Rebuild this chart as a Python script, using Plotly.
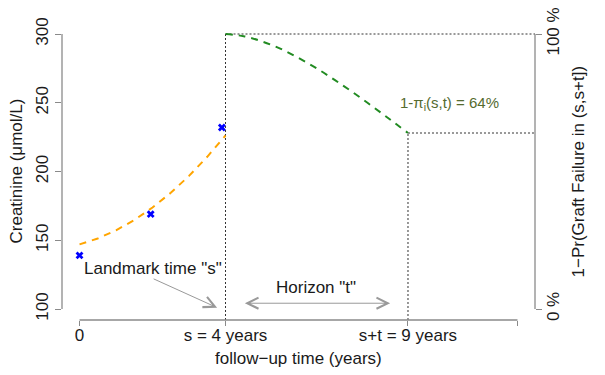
import plotly.graph_objects as go

# ---- data ----
obs_time = [0, 1.95, 3.9]
obs_creat = [139, 169, 232]

traj_time = [0, 0.5, 1, 1.5, 2, 2.5, 3, 3.5, 4]
traj_creat = [147, 151.3, 157.2, 164.7, 173.8, 184.5, 196.8, 210.7, 226.2]

surv_time = [4, 4.5, 5, 5.5, 6, 6.5, 7, 7.5, 8, 8.5, 9]
surv_pct = [100, 99.2, 97.3, 94.7, 91.3, 87.5, 83.2, 78.7, 73.9, 69.0, 64]

landmark_s = 4
horizon_end = 9
x_ticks = [0, 4, 9, 12]
x_ticktext = ["0", "s = 4 years", "s+t = 9 years", ""]
y_ticks = [100, 150, 200, 250, 300]
y2_ticks = [0, 100]
y2_ticktext = ["0 %", "100 %"]

X_RANGE = [-0.48, 12.48]
Y_RANGE = [92, 308]
Y2_RANGE = [-4, 104]

FONT = "Arial, 'Liberation Sans', sans-serif"
AXIS_COL = "#8a8a8a"
TXT = "#1a1a1a"
DOT = "#333333"

PW, PH = 473, 297  # plot area size in px

fig = go.Figure()

# dotted guide lines
fig.add_trace(go.Scatter(x=[landmark_s, landmark_s], y=[Y_RANGE[0], 300], mode="lines",
                         line=dict(color=DOT, width=1, dash="2px,2px"), showlegend=False, hoverinfo="skip"))
fig.add_trace(go.Scatter(x=[landmark_s, X_RANGE[1]], y=[surv_pct[0], surv_pct[0]], yaxis="y2", mode="lines",
                         line=dict(color=DOT, width=1, dash="2px,2px"), showlegend=False, hoverinfo="skip"))
fig.add_trace(go.Scatter(x=[horizon_end, horizon_end], y=[Y2_RANGE[0], surv_pct[-1]], yaxis="y2", mode="lines",
                         line=dict(color=DOT, width=1, dash="2px,2px"), showlegend=False, hoverinfo="skip"))
fig.add_trace(go.Scatter(x=[horizon_end, X_RANGE[1]], y=[surv_pct[-1], surv_pct[-1]], yaxis="y2", mode="lines",
                         line=dict(color=DOT, width=1, dash="2px,2px"), showlegend=False, hoverinfo="skip"))

# trajectory
fig.add_trace(go.Scatter(x=traj_time, y=traj_creat, mode="lines", line=dict(color="#FFA500", width=2, dash="7px,6px"),
                         showlegend=False, hoverinfo="skip"))
# survival curve
fig.add_trace(go.Scatter(x=surv_time, y=surv_pct, yaxis="y2", mode="lines",
                         line=dict(color="#228B22", width=2, dash="7px,6px", shape="spline"),
                         showlegend=False, hoverinfo="skip"))
# observations
fig.add_trace(go.Scatter(x=obs_time, y=obs_creat, mode="markers",
                         marker=dict(symbol="x", size=7, color="#0000FF", line=dict(width=0)),
                         showlegend=False, hoverinfo="skip"))

# axis lines (R style, spanning first to last tick)
fig.add_shape(type="line", xref="x", yref="paper", x0=x_ticks[0], x1=x_ticks[-1], y0=0, y1=0,
              line=dict(color=AXIS_COL, width=1.3))
fig.add_shape(type="line", xref="paper", yref="y", x0=0, x1=0, y0=y_ticks[0], y1=y_ticks[-1],
              line=dict(color=AXIS_COL, width=1.3))
fig.add_shape(type="line", xref="paper", yref="y2", x0=1, x1=1, y0=y2_ticks[0], y1=y2_ticks[-1],
              line=dict(color=AXIS_COL, width=1.3))

# arrows
fig.add_annotation(x=3.77, y=101, ax=1.99, ay=122.4, xref="x", yref="y", axref="x", ayref="y",
                   text="", showarrow=True, arrowhead=5, arrowsize=2.2, arrowwidth=1, arrowcolor="#999999")
fig.add_annotation(x=8.51, y=104.2, ax=4.49, ay=104.2, xref="x", yref="y", axref="x", ayref="y",
                   text="", showarrow=True, arrowhead=5, startarrowhead=5, arrowside="end+start",
                   arrowsize=2.2, startarrowsize=2.2, arrowwidth=1, arrowcolor="#999999")

# texts
fig.add_annotation(x=2.0, y=129.7, xref="x", yref="y", text='Landmark time "s"', showarrow=False,
                   font=dict(family=FONT, size=17, color=TXT))
fig.add_annotation(x=6.48, y=115.5, xref="x", yref="y", text='Horizon "t"', showarrow=False,
                   font=dict(family=FONT, size=17, color=TXT))
fig.add_annotation(x=10.15, y=74.7, xref="x", yref="y2", text="1-π<sub>i</sub>(s,t) = 64%", showarrow=False,
                   font=dict(family=FONT, size=15, color="#556B2F"))

# axis titles
fig.add_annotation(x=-46/PW, y=0.5, xref="paper", yref="paper", xanchor="center", yanchor="middle",
                   text="Creatinine (μmol/L)", showarrow=False,
                   textangle=-90, font=dict(family=FONT, size=17, color=TXT))
fig.add_annotation(x=1 + 43/PW, y=0.5, xref="paper", yref="paper", xanchor="center", yanchor="middle",
                   text="1−Pr(Graft Failure in (s,s+t])",
                   showarrow=False, textangle=-90, font=dict(family=FONT, size=17, color=TXT))
fig.add_annotation(x=0.5, y=-38/PH, xref="paper", yref="paper", xanchor="center", yanchor="middle",
                   text="follow−up time (years)",
                   showarrow=False, font=dict(family=FONT, size=17, color=TXT))

fig.update_layout(
    width=597, height=367,
    margin=dict(l=54, r=70, t=15, b=55, autoexpand=False),
    paper_bgcolor="white", plot_bgcolor="white",
    font=dict(family=FONT, size=17, color=TXT),
    xaxis=dict(range=X_RANGE, showgrid=False, zeroline=False, showline=False, automargin=False,
               tickmode="array", tickvals=x_ticks, ticktext=x_ticktext,
               ticks="outside", ticklen=5, tickcolor=AXIS_COL, tickwidth=1.3, ticklabelstandoff=-5,
               ticklabeloverflow="allow", tickfont=dict(size=17, color=TXT)),
    yaxis=dict(range=Y_RANGE, showgrid=False, zeroline=False, showline=False, automargin=False,
               tickmode="array", tickvals=y_ticks, ticks="outside", ticklen=6,
               tickcolor=AXIS_COL, tickwidth=1.3, tickangle=-90,
               ticklabeloverflow="allow", tickfont=dict(size=17, color=TXT)),
    yaxis2=dict(range=Y2_RANGE, overlaying="y", side="right", showgrid=False, zeroline=False,
                showline=False, automargin=False, tickmode="array", tickvals=y2_ticks, ticktext=y2_ticktext,
                ticks="outside", ticklen=6, tickcolor=AXIS_COL, tickwidth=1.3, tickangle=-90,
                ticklabelstandoff=-3, ticklabeloverflow="allow", tickfont=dict(size=17, color=TXT)),
    showlegend=False,
)

fig.write_html("out.html")
